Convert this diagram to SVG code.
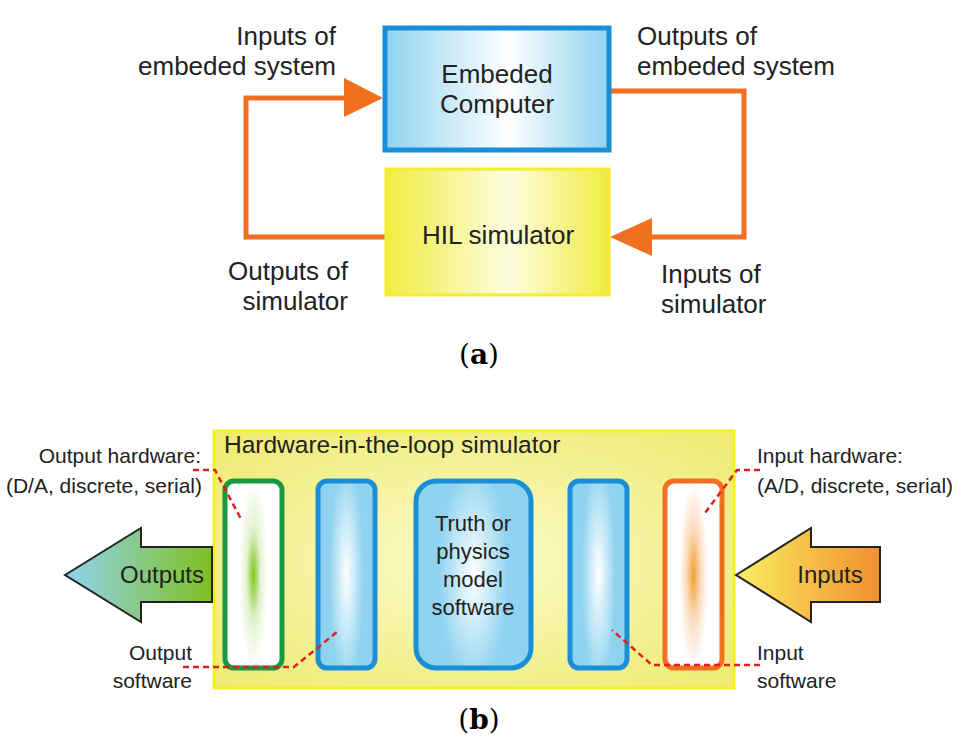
<svg xmlns="http://www.w3.org/2000/svg" width="959" height="754" viewBox="0 0 959 754">
<style>
text{font-family:"Liberation Sans",Arial,sans-serif;fill:#222;}
.l{font-size:26px;}
.s{font-size:21px;}
.m{font-size:22px;}
.cap{font-family:"DejaVu Serif","Liberation Serif",serif;font-size:28px;fill:#000;}
.flow{fill:none;stroke:#f07020;stroke-width:5;}
.dash{fill:none;stroke:#e02020;stroke-width:2.5;stroke-dasharray:6,4;}
.sa{stroke:#f07020;stroke-width:4;}
</style>
<defs>
<linearGradient id="gb" x1="0" x2="1"><stop offset="0" stop-color="#8fd3f0"/><stop offset="0.55" stop-color="#ffffff"/><stop offset="1" stop-color="#8fd3f0"/></linearGradient>
<linearGradient id="gy" x1="0" x2="1"><stop offset="0" stop-color="#f0ec40"/><stop offset="0.55" stop-color="#fdfde0"/><stop offset="1" stop-color="#f0ec40"/></linearGradient>
<radialGradient id="gY" cx="0.5" cy="0.5" r="0.7"><stop offset="0" stop-color="#fbfbc8"/><stop offset="1" stop-color="#eeea70"/></radialGradient>
<radialGradient id="gg" cx="0.5" cy="0.5" r="0.5" gradientTransform="translate(0.5,0.5) scale(0.5,1) translate(-0.5,-0.5)"><stop offset="0" stop-color="#7cc820"/><stop offset="0.5" stop-color="#e4f2d0"/><stop offset="1" stop-color="#ffffff"/></radialGradient>
<radialGradient id="go" cx="0.5" cy="0.5" r="0.5" gradientTransform="translate(0.5,0.5) scale(0.5,1) translate(-0.5,-0.5)"><stop offset="0" stop-color="#f5a030"/><stop offset="0.5" stop-color="#fbdcc0"/><stop offset="1" stop-color="#ffffff"/></radialGradient>
<radialGradient id="gc" cx="0.5" cy="0.5" r="0.6" gradientTransform="translate(0.5,0.5) scale(0.5,1) translate(-0.5,-0.5)"><stop offset="0" stop-color="#ffffff"/><stop offset="1" stop-color="#8fd3f0"/></radialGradient>
<linearGradient id="gout" x1="0" x2="1"><stop offset="0" stop-color="#8fd3f0"/><stop offset="1" stop-color="#80c020"/></linearGradient>
<linearGradient id="gin" x1="0" x2="1"><stop offset="0" stop-color="#fbee60"/><stop offset="1" stop-color="#f09030"/></linearGradient>
<marker id="ah" viewBox="0 0 10 10" refX="9" refY="5" markerWidth="4" markerHeight="4" orient="auto" markerUnits="strokeWidth"><path d="M0,0 L10,5 L0,10 L3,5 z" fill="#f07020"/></marker>
</defs>

<g id="connectors">
<polyline class="flow" points="385,237 246,237 246,98 350,98"/>
<path d="M344,78 L383,98 L344,117 z" fill="#f07020"/>
<polyline class="flow" points="611,91 744,91 744,237 648,237"/>
<path d="M652,218 L610,237 L652,256 z" fill="#f07020"/>
<line class="sa" x1="316" y1="574" x2="287" y2="574" marker-end="url(#ah)"/>
<line class="sa" x1="414" y1="574" x2="380" y2="574" marker-end="url(#ah)"/>
<line class="sa" x1="568" y1="574" x2="535" y2="574" marker-end="url(#ah)"/>
<line class="sa" x1="663" y1="574" x2="631" y2="574" marker-end="url(#ah)"/>
</g>

<g id="embeded-computer">
<rect x="385" y="28" width="224" height="122" fill="url(#gb)" stroke="#1a8fd8" stroke-width="5"/>
<text class="l" x="497" y="83" text-anchor="middle">Embeded</text>
<text class="l" x="497" y="113" text-anchor="middle">Computer</text>
</g>
<g id="hil-simulator">
<rect x="386" y="169" width="223" height="126" fill="url(#gy)" stroke="#f5ec30" stroke-width="3"/>
<text class="l" x="498" y="244" text-anchor="middle">HIL simulator</text>
</g>
<g id="labels-a">
<text class="l" x="336" y="45" text-anchor="end">Inputs of</text>
<text class="l" x="336" y="75" text-anchor="end">embeded system</text>
<text class="l" x="637" y="45">Outputs of</text>
<text class="l" x="637" y="75">embeded system</text>
<text class="l" x="348" y="280" text-anchor="end">Outputs of</text>
<text class="l" x="348" y="310" text-anchor="end">simulator</text>
<text class="l" x="661" y="283">Inputs of</text>
<text class="l" x="661" y="313">simulator</text>
<text class="cap" x="479" y="364" text-anchor="middle">(<tspan font-weight="bold">a</tspan>)</text>
</g>

<g id="hil-box">
<rect x="214" y="431" width="520" height="257" fill="url(#gY)" stroke="#f5f020" stroke-width="3"/>
<text x="224" y="453" style="font-size:24.5px">Hardware-in-the-loop simulator</text>
</g>
<g id="output-hardware"><rect x="225" y="481" width="57" height="187" rx="9" fill="url(#gg)" stroke="#1a9a40" stroke-width="5"/></g>
<g id="output-software"><rect x="318" y="481" width="57" height="187" rx="9" fill="url(#gc)" stroke="#1a8fd8" stroke-width="5"/></g>
<g id="model">
<rect x="416" y="481" width="115" height="187" rx="20" fill="url(#gc)" stroke="#1a8fd8" stroke-width="5"/>
<text class="m" x="473" y="531" text-anchor="middle">Truth or</text>
<text class="m" x="473" y="559" text-anchor="middle">physics</text>
<text class="m" x="473" y="587" text-anchor="middle">model</text>
<text class="m" x="473" y="615" text-anchor="middle">software</text>
</g>
<g id="input-software"><rect x="570" y="481" width="57" height="187" rx="9" fill="url(#gc)" stroke="#1a8fd8" stroke-width="5"/></g>
<g id="input-hardware"><rect x="665" y="481" width="57" height="187" rx="9" fill="url(#go)" stroke="#f07020" stroke-width="5"/></g>

<g id="outputs-arrow">
<path d="M65,575 L141,528 L141,547 L212,547 L212,602 L141,602 L141,622 z" fill="url(#gout)" stroke="#222" stroke-width="2"/>
<text x="162" y="583" text-anchor="middle" style="font-size:24px">Outputs</text>
</g>
<g id="inputs-arrow">
<path d="M736,575 L811,528 L811,547 L880,547 L880,602 L811,602 L811,622 z" fill="url(#gin)" stroke="#222" stroke-width="2"/>
<text x="830" y="583" text-anchor="middle" style="font-size:24px">Inputs</text>
</g>

<g id="labels-b">
<polyline class="dash" points="193,470 215,470 242,521"/>
<polyline class="dash" points="183,667 294,667 337,632"/>
<polyline class="dash" points="760,470 737,470 705,513"/>
<polyline class="dash" points="760,665 652,665 612,630"/>
<text class="s" x="201" y="463" text-anchor="end">Output hardware:</text>
<text class="s" x="202" y="493" text-anchor="end">(D/A, discrete, serial)</text>
<text class="s" x="192" y="660" text-anchor="end">Output</text>
<text class="s" x="192" y="688" text-anchor="end">software</text>
<text class="s" x="757" y="463">Input hardware:</text>
<text class="s" x="757" y="493">(A/D, discrete, serial)</text>
<text class="s" x="757" y="660">Input</text>
<text class="s" x="757" y="688">software</text>
<text class="cap" x="479" y="729" text-anchor="middle">(<tspan font-weight="bold">b</tspan>)</text>
</g>
</svg>
